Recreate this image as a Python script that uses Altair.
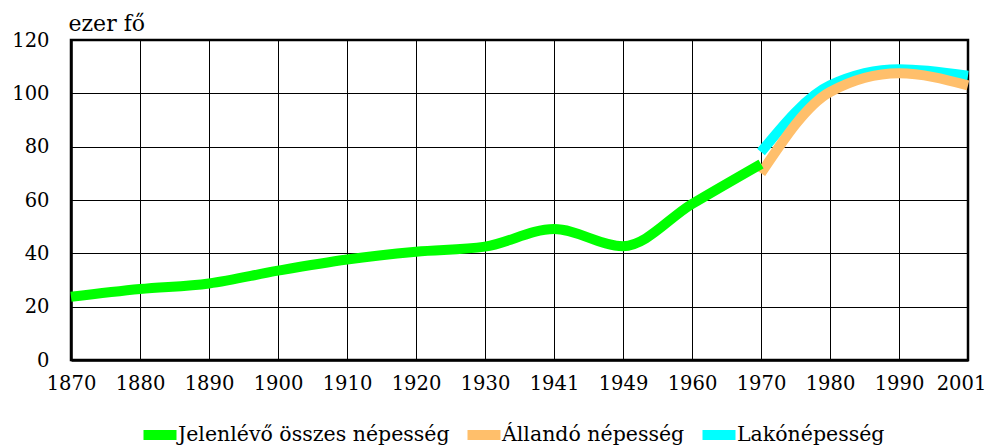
import altair as alt
import pandas as pd

years = ["1870", "1880", "1890", "1900", "1910", "1920", "1930",
         "1941", "1949", "1960", "1970", "1980", "1990", "2001"]

jelenlevo_years = ["1870", "1880", "1890", "1900", "1910", "1920", "1930",
                   "1941", "1949", "1960", "1970"]
jelenlevo = [23.7, 26.6, 28.7, 33.5, 37.7, 40.6, 42.5, 49.1, 42.7, 58.5, 73.5]

allando_years = ["1970", "1980", "1990", "2001"]
allando = [70.0, 100.5, 107.5, 103.0]

lako_years = ["1970", "1980", "1990", "2001"]
lako = [78.0, 103.0, 109.0, 106.6]

series_names = ["Jelenlévő összes népesség", "Állandó népesség", "Lakónépesség"]
series_colors = ["#00FF00", "#FFBF6B", "#00FFFF"]
y_ticks = [0, 20, 40, 60, 80, 100, 120]
unit_label = "ezer fő"

FONT = "DejaVu Serif"


def frame(yrs, vals, name):
    return pd.DataFrame({"year": yrs, "value": vals, "series": name})


df_j = frame(jelenlevo_years, jelenlevo, series_names[0])
df_a = frame(allando_years, allando, series_names[1])
df_l = frame(lako_years, lako, series_names[2])

x_enc = alt.X(
    "year:O",
    sort=years,
    scale=alt.Scale(type="point", padding=0, domain=years),
    axis=alt.Axis(
        title=None, labelAngle=0, ticks=False, grid=True,
        gridColor="black", gridWidth=1, gridOpacity=1,
        domainColor="black", domainWidth=2.5,
        labelFont=FONT, labelFontSize=19.5, labelColor="black",
        labelPadding=14, labelBaseline="top",
        labelOffset={"condition": {"test": "datum.label == '2001'", "value": -7},
                     "value": 0},
    ),
)
y_enc = alt.Y(
    "value:Q",
    scale=alt.Scale(domain=[0, 120], nice=False),
    axis=alt.Axis(
        title=unit_label, titleAngle=0, titleX=-3, titleY=-10,
        titleAlign="left", titleBaseline="alphabetic",
        titleFont=FONT, titleFontSize=22, titleFontWeight="normal",
        titleColor="black",
        values=y_ticks, ticks=False, grid=True,
        gridColor="black", gridWidth=1, gridOpacity=1,
        domainColor="black", domainWidth=2.5,
        labelFont=FONT, labelFontSize=19.5, labelColor="black",
        labelPadding=22,
    ),
)
color_enc = alt.Color(
    "series:N",
    scale=alt.Scale(domain=series_names, range=series_colors),
    legend=alt.Legend(
        title=None, orient="none", direction="horizontal",
        legendX=74, legendY=380,
        symbolType="M-1.65,0H1.65", symbolSize=400, symbolStrokeWidth=10,
        labelFont=FONT, labelFontSize=20.5, labelColor="black",
        labelOffset=3, columnPadding=-3, labelLimit=500,
    ),
)


def layer(df):
    return alt.Chart(df).mark_line(
        interpolate="monotone", strokeWidth=10, strokeCap="butt"
    ).encode(x=x_enc, y=y_enc, color=color_enc)


chart = alt.layer(layer(df_l), layer(df_a), layer(df_j)).properties(
    width=897,
    height=320,
    padding={"left": 63, "top": 32, "right": 18, "bottom": 85},
    autosize=alt.AutoSizeParams(type="none"),
).configure_view(stroke="black", strokeWidth=2.5)

chart.save("out.html", embed_options={"renderer": "svg", "actions": False})
